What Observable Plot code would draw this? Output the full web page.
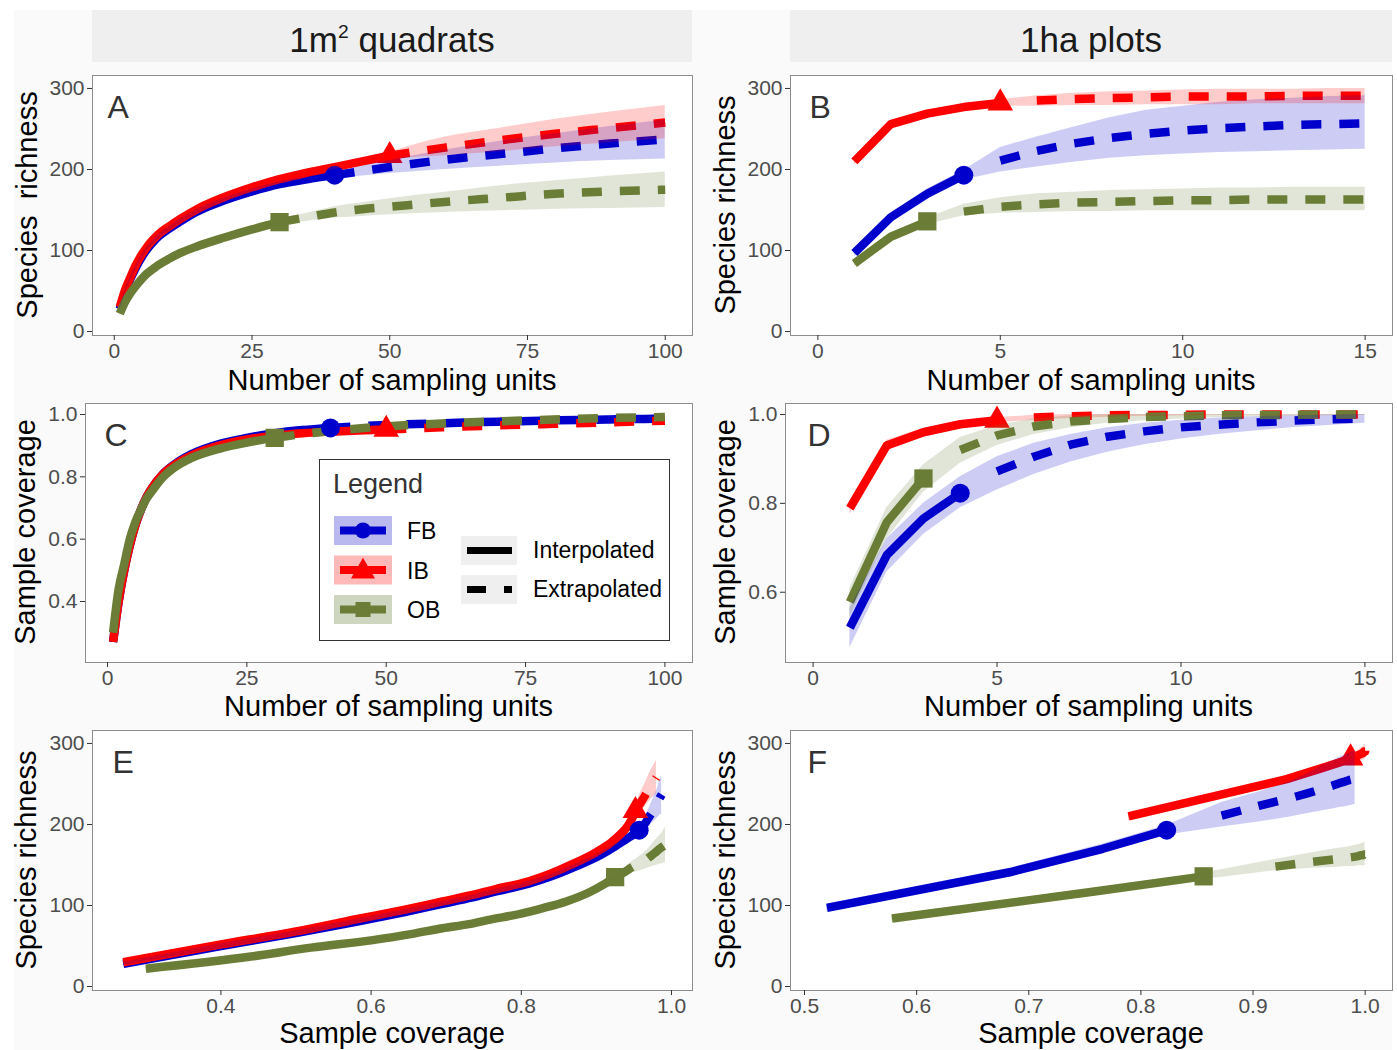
<!DOCTYPE html>
<html>
<head>
<meta charset="utf-8">
<script src="https://cdn.jsdelivr.net/npm/d3@7"></script>
<script src="https://cdn.jsdelivr.net/npm/@observablehq/plot@0.6"></script>
<style>
  body { margin: 0; background: #fff; font-family: "Liberation Sans", Arial, sans-serif; }
  #root { position: relative; width: 1397px; height: 1050px; overflow: hidden; background: #fff; }
  #bg { position: absolute; left: 14px; top: 10px; width: 1378px; height: 1040px; background: #fafafa; }
  .strip { position: absolute; background: #efefef; color: #1a1a1a; font-size: 35px; text-align: center; line-height: 60px; height: 52px; overflow: visible; }
  .strip .sup { font-size: 55%; vertical-align: 0.75em; line-height: 0; }
  .xt { position: absolute; font-size: 29px; line-height: 29px; color: #000; text-align: center; white-space: pre; }
  .yt { position: absolute; font-size: 29px; line-height: 34px; height: 34px; width: 360px; color: #000; text-align: center; white-space: pre; transform: rotate(-90deg); }
  .panel { position: absolute; }
</style>
</head>
<body>
<div id="root">
  <div id="bg"></div>
  <div class="strip" style="left:92px;top:10px;width:600px;">1m<span class="sup">2</span> quadrats</div>
  <div class="strip" style="left:790px;top:10px;width:602px;">1ha plots</div>

  <div class="xt" style="left:92px;top:366px;width:600px;">Number of sampling units</div>
  <div class="xt" style="left:790px;top:366px;width:602px;">Number of sampling units</div>
  <div class="xt" style="left:85px;top:692px;width:607px;">Number of sampling units</div>
  <div class="xt" style="left:785px;top:692px;width:607px;">Number of sampling units</div>
  <div class="xt" style="left:92px;top:1019px;width:600px;">Sample coverage</div>
  <div class="xt" style="left:790px;top:1019px;width:602px;">Sample coverage</div>

  <div class="yt" style="left:-153px;top:188px;">Species  richness</div>
  <div class="yt" style="left:545px;top:188px;">Species richness</div>
  <div class="yt" style="left:-155px;top:515px;">Sample coverage</div>
  <div class="yt" style="left:545px;top:515px;">Sample coverage</div>
  <div class="yt" style="left:-154px;top:843px;">Species richness</div>
  <div class="yt" style="left:545px;top:843px;">Species richness</div>
</div>
<script>
// ---------------- data ----------------
const sites = ["FB", "IB", "OB"];
const siteColors = ["#0000CC", "#FF0000", "#6B7D36"];
const siteSymbols = ["circle", "triangle", "square"];
const symbolR = [9.5, 9.5, 10.3];

// 1 m² quadrats: number of sampling units
const qT = [1, 2, 3, 4, 5, 6, 7, 8, 10, 12, 15, 20, 25, 30, 35, 40, 45, 50, 60, 70, 80, 90, 100];
const qObs = [40, 50, 30];
// species richness (estimate, lower, upper)
const qS_FB  = [28, 50, 66, 80, 92, 102, 110, 117, 127, 136, 148, 162, 173, 182, 188, 193, 198, 203, 212, 219, 226, 232, 237];
const qLo_FB = [26, 47, 63, 77, 89, 99, 107, 114, 124, 133, 145, 159, 170, 179, 185, 189, 192, 195, 200, 204, 208, 211, 213];
const qHi_FB = [30, 53, 69, 83, 95, 105, 113, 120, 130, 139, 151, 165, 176, 185, 191, 197, 204, 211, 224, 235, 244, 253, 261];
const qS_IB  = [30, 52, 68, 83, 95, 105, 113, 120, 130, 139, 151, 166, 178, 188, 196, 203, 210, 217, 227, 236, 244, 251, 258];
const qLo_IB = [28, 49, 65, 80, 92, 102, 110, 117, 127, 136, 148, 163, 175, 185, 193, 200, 206, 212, 217, 222, 228, 233, 238];
const qHi_IB = [32, 55, 71, 86, 98, 108, 116, 123, 133, 142, 154, 169, 181, 191, 199, 206, 214, 222, 240, 251, 262, 271, 279];
const qS_OB  = [22, 37, 48, 57, 65, 72, 77, 82, 90, 97, 105, 116, 126, 135, 141, 147, 151, 154, 160, 165, 170, 173, 175];
const qLo_OB = [20, 34, 45, 54, 62, 69, 74, 79, 87, 94, 102, 113, 122, 131, 136, 140, 142, 144, 147, 149, 151, 152, 153];
const qHi_OB = [24, 40, 51, 60, 68, 75, 80, 85, 93, 100, 108, 119, 130, 139, 146, 154, 159, 164, 172, 180, 186, 192, 197];
// sample coverage
const qC_FB = [0.27, 0.40, 0.50, 0.58, 0.645, 0.695, 0.735, 0.765, 0.81, 0.84, 0.872, 0.905, 0.925, 0.94, 0.95, 0.957, 0.962, 0.966, 0.972, 0.977, 0.981, 0.984, 0.987];
const qC_IB = [0.27, 0.40, 0.50, 0.58, 0.645, 0.695, 0.735, 0.765, 0.81, 0.838, 0.868, 0.90, 0.92, 0.932, 0.94, 0.945, 0.949, 0.952, 0.959, 0.965, 0.97, 0.975, 0.98];
const qC_OB = [0.30, 0.44, 0.52, 0.60, 0.655, 0.695, 0.73, 0.755, 0.80, 0.83, 0.86, 0.89, 0.91, 0.925, 0.937, 0.947, 0.955, 0.962, 0.971, 0.978, 0.984, 0.989, 0.992];

// 1 ha plots: number of sampling units
const hT = [1, 2, 3, 4, 5, 6, 7, 8, 9, 10, 11, 12, 13, 14, 15];
const hObs = [4, 5, 3];
const hS_FB  = [97, 141, 170, 193, 211, 223, 232, 239, 244, 248, 251, 253, 255, 256, 257];
const hLo_FB = [92, 137, 165, 187, 197, 203, 209, 214, 217, 219, 221, 222, 223, 224, 225];
const hHi_FB = [102, 146, 176, 199, 227, 240, 252, 264, 273, 278, 283, 286, 288, 290, 291];
const hS_IB  = [210, 256, 269, 277, 282, 285, 287, 288, 289, 290, 290, 290, 291, 291, 291];
const hLo_IB = [205, 252, 265, 273, 278, 278, 279, 279, 280, 280, 280, 281, 281, 281, 281];
const hHi_IB = [215, 260, 273, 281, 286, 291, 294, 296, 297, 298, 299, 299, 299, 300, 300];
const hS_OB  = [84, 117, 136, 148, 154, 157, 159, 160, 161, 162, 162, 163, 163, 163, 163];
const hLo_OB = [80, 113, 132, 143, 146, 147, 148, 148, 149, 149, 149, 149, 149, 149, 149];
const hHi_OB = [88, 121, 140, 157, 165, 170, 172, 174, 175, 176, 177, 177, 178, 178, 178];
const hC_FB   = [0.52, 0.683, 0.766, 0.823, 0.872, 0.905, 0.932, 0.95, 0.962, 0.971, 0.977, 0.982, 0.986, 0.989, 0.991];
const hCLo_FB = [0.475, 0.645, 0.73, 0.79, 0.83, 0.865, 0.893, 0.915, 0.932, 0.945, 0.955, 0.963, 0.97, 0.975, 0.98];
const hCHi_FB = [0.565, 0.72, 0.80, 0.86, 0.905, 0.935, 0.955, 0.97, 0.98, 0.987, 0.992, 0.995, 0.997, 0.999, 1.0];
const hC_IB   = [0.789, 0.93, 0.96, 0.978, 0.987, 0.993, 0.996, 0.998, 0.999, 0.999, 1, 1, 1, 1, 1];
const hCLo_IB = [0.775, 0.918, 0.951, 0.971, 0.981, 0.987, 0.991, 0.994, 0.996, 0.997, 0.998, 0.999, 0.999, 0.999, 0.999];
const hCHi_IB = [0.803, 0.942, 0.969, 0.985, 0.993, 0.998, 1, 1, 1, 1, 1, 1, 1, 1, 1];
const hC_OB   = [0.578, 0.757, 0.856, 0.92, 0.953, 0.973, 0.984, 0.99, 0.994, 0.996, 0.998, 0.999, 0.999, 1, 1];
const hCLo_OB = [0.545, 0.72, 0.825, 0.89, 0.93, 0.955, 0.97, 0.98, 0.986, 0.99, 0.993, 0.995, 0.996, 0.997, 0.998];
const hCHi_OB = [0.61, 0.79, 0.887, 0.948, 0.975, 0.99, 0.997, 1, 1, 1, 1, 1, 1, 1, 1];

const xTicksQ = [0, 25, 50, 75, 100];
const xTicksH = [0, 5, 10, 15];
const yTicksS = [0, 100, 200, 300];
const yTicksCq = [0.4, 0.6, 0.8, 1.0];
const yTicksCh = [0.6, 0.8, 1.0];
const xTicksCq = [0.4, 0.6, 0.8, 1.0];
const xTicksCh = [0.5, 0.6, 0.7, 0.8, 0.9, 1.0];

// ---------------- tables ----------------
function buildRows(T, S, Lo, Hi, C, CLo, CHi) {
  return T.map((t, j) => ({t, S: S[j], lo: Lo[j], hi: Hi[j], C: C[j],
    cLo: CLo ? CLo[j] : undefined, cHi: CHi ? CHi[j] : undefined}));
}
const qRows = [
  buildRows(qT, qS_FB, qLo_FB, qHi_FB, qC_FB),
  buildRows(qT, qS_IB, qLo_IB, qHi_IB, qC_IB),
  buildRows(qT, qS_OB, qLo_OB, qHi_OB, qC_OB)
];
const hRows = [
  buildRows(hT, hS_FB, hLo_FB, hHi_FB, hC_FB, hCLo_FB, hCHi_FB),
  buildRows(hT, hS_IB, hLo_IB, hHi_IB, hC_IB, hCLo_IB, hCHi_IB),
  buildRows(hT, hS_OB, hLo_OB, hHi_OB, hC_OB, hCLo_OB, hCHi_OB)
];

const yDomS = [-4.9, 316];
const panels = [
  {id: "A", box: [30, 65, 675, 305], frame: [92, 75, 692, 335], rows: qRows, obs: qObs, strict: false,
   x: "t", y: "S", lo: "lo", hi: "hi", xDomain: [-3.95, 104.95], yDomain: yDomS,
   xTicks: xTicksQ, yTicks: yTicksS, xFmt: "d", yFmt: "d", curve: "monotone-x", ldx: 15},
  {id: "B", box: [728, 65, 669, 305], frame: [790, 75, 1392, 335], rows: hRows, obs: hObs, strict: true,
   x: "t", y: "S", lo: "lo", hi: "hi", xDomain: [-0.75, 15.75], yDomain: yDomS,
   xTicks: xTicksH, yTicks: yTicksS, xFmt: "d", yFmt: "d", curve: "linear", ldx: 19},
  {id: "C", box: [30, 393, 675, 305], frame: [85, 403, 692, 662], rows: qRows, obs: qObs, strict: false,
   x: "t", y: "C", lo: null, hi: null, xDomain: [-3.95, 104.95], yDomain: [0.2043, 1.0353],
   xTicks: xTicksQ, yTicks: yTicksCq, xFmt: "d", yFmt: ".1f", curve: "monotone-x", ldx: 19},
  {id: "D", box: [728, 393, 669, 305], frame: [785, 403, 1392, 662], rows: hRows, obs: hObs, strict: true,
   x: "t", y: "C", lo: "cLo", hi: "cHi", xDomain: [-0.75, 15.75], yDomain: [0.4419, 1.0247],
   xTicks: xTicksH, yTicks: yTicksCh, xFmt: "d", yFmt: ".1f", curve: "linear", ldx: 22},
  {id: "E", box: [30, 720, 675, 305], frame: [92, 730, 692, 990], rows: qRows, obs: qObs, strict: false,
   x: "C", y: "S", lo: "lo", hi: "hi", xDomain: [0.229, 1.028], yDomain: yDomS,
   xTicks: xTicksCq, yTicks: yTicksS, xFmt: ".1f", yFmt: "d", curve: "monotone-x", ldx: 20},
  {id: "F", box: [728, 720, 669, 305], frame: [790, 730, 1392, 990], rows: hRows, obs: hObs, strict: true,
   x: "C", y: "S", lo: "lo", hi: "hi", xDomain: [0.4875, 1.0244], yDomain: yDomS,
   xTicks: xTicksCh, yTicks: yTicksS, xFmt: ".1f", yFmt: "d", curve: "linear", ldx: 17}
];

const root = document.getElementById("root");

function makePanel(p) {
  const [L, T, W, H] = p.box;
  const [fl, ft, fr, fb] = p.frame;
  const marks = [Plot.frame({fill: "white", stroke: "none"})];
  sites.forEach((s, i) => {
    const rows = p.rows[i];
    const obs = p.obs[i];
    const interp = rows.filter(d => d.t <= obs);
    const extrap = rows.filter(d => p.strict ? d.t > obs : d.t >= obs);
    const common = {x: p.x, y: p.y, stroke: siteColors[i], strokeWidth: 8.5, strokeLinecap: "butt",
      strokeLinejoin: "round", curve: p.curve, clip: true};
    marks.push(Plot.line(interp, common));
    marks.push(Plot.line(extrap, {...common, strokeDasharray: "20,18"}));
  });
  sites.forEach((s, i) => {
    const pt = p.rows[i].filter(d => d.t === p.obs[i]);
    marks.push(Plot.dot(pt, {x: p.x, y: p.y, symbol: siteSymbols[i], r: symbolR[i],
      fill: siteColors[i], stroke: "none"}));
  });
  if (p.lo) {
    sites.forEach((s, i) => {
      marks.push(Plot.areaY(p.rows[i], {x: p.x, y1: p.lo, y2: p.hi, fill: siteColors[i],
        fillOpacity: 0.2, curve: p.curve, clip: true}));
    });
  }
  marks.push(Plot.frame({stroke: "#8c8c8c", strokeWidth: 1}));
  marks.push(Plot.axisX(p.xTicks, {tickFormat: p.xFmt, tickSize: 5, tickPadding: 3,
    stroke: "#333", fill: "#4d4d4d", label: null}));
  marks.push(Plot.axisY(p.yTicks, {tickFormat: p.yFmt, tickSize: 5, tickPadding: 3,
    stroke: "#333", fill: "#4d4d4d", label: null}));
  marks.push(Plot.text([p.id], {text: d => d, frameAnchor: "top-left", dx: p.ldx, dy: 20,
    lineAnchor: "top", textAnchor: "start", fontSize: 32, fill: "#333"}));

  const svg = Plot.plot({
    width: W, height: H,
    marginLeft: fl - L, marginTop: ft - T, marginRight: L + W - fr, marginBottom: T + H - fb,
    x: {domain: p.xDomain},
    y: {domain: p.yDomain},
    style: {background: "transparent", fontSize: "21px", overflow: "visible", maxWidth: "none",
      fontFamily: '"Liberation Sans", Arial, sans-serif'},
    marks
  });
  const div = document.createElement("div");
  div.className = "panel";
  div.style.left = L + "px";
  div.style.top = T + "px";
  div.style.width = W + "px";
  div.style.height = H + "px";
  div.appendChild(svg);
  root.appendChild(div);
}
panels.forEach(makePanel);

// ---------------- legend ----------------
const lg = d3.select(root).append("svg")
  .attr("width", 352).attr("height", 183)
  .style("position", "absolute").style("left", "319px").style("top", "459px")
  .style("font-family", '"Liberation Sans", Arial, sans-serif');
lg.append("rect").attr("x", 0.5).attr("y", 0.5).attr("width", 350).attr("height", 181)
  .attr("fill", "white").attr("stroke", "#333").attr("stroke-width", 1);
lg.append("text").attr("x", 14).attr("y", 34).attr("font-size", 27).attr("fill", "#333").text("Legend");
const keyFill = ["#b9b9f0", "#ffb9b9", "#cfd6c0"];
const d3Sym = {circle: d3.symbolCircle, triangle: d3.symbolTriangle, square: d3.symbolSquare};
const symSize = [201, 250, 225];
sites.forEach((s, i) => {
  const y0 = 57 + i * 39.5;
  lg.append("rect").attr("x", 15).attr("y", y0).attr("width", 58).attr("height", 29).attr("fill", keyFill[i]);
  lg.append("line").attr("x1", 21).attr("x2", 67).attr("y1", y0 + 14.5).attr("y2", y0 + 14.5)
    .attr("stroke", siteColors[i]).attr("stroke-width", 8);
  lg.append("path").attr("d", d3.symbol(d3Sym[siteSymbols[i]], symSize[i])())
    .attr("transform", `translate(44,${y0 + 14.5 + (i === 1 ? 1.5 : 0)})`).attr("fill", siteColors[i]);
  lg.append("text").attr("x", 88).attr("y", y0 + 23).attr("font-size", 23).attr("fill", "#000").text(s);
});
const ltypes = ["Interpolated", "Extrapolated"];
ltypes.forEach((name, i) => {
  const y0 = 77 + i * 39;
  lg.append("rect").attr("x", 142).attr("y", y0).attr("width", 56).attr("height", 29).attr("fill", "#efefef");
  lg.append("line").attr("x1", 148).attr("x2", 193).attr("y1", y0 + 14.5).attr("y2", y0 + 14.5)
    .attr("stroke", "#000").attr("stroke-width", 7)
    .attr("stroke-dasharray", i === 1 ? "19,18" : null);
  lg.append("text").attr("x", 214).attr("y", y0 + 22).attr("font-size", 23).attr("fill", "#000").text(name);
});
</script>
</body>
</html>
